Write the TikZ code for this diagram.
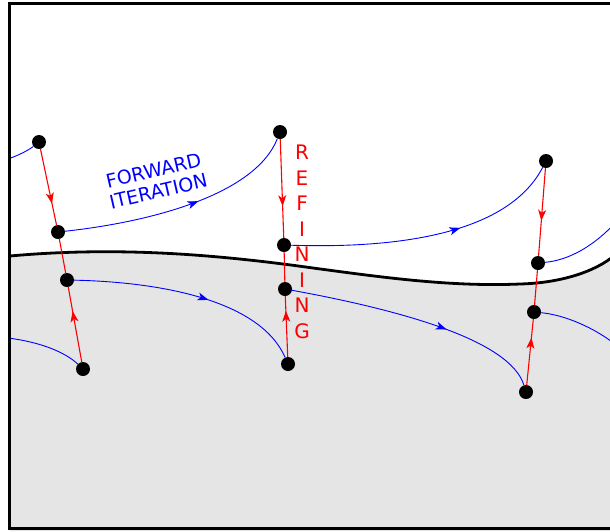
\documentclass[tikz,border=0pt]{standalone}
\usepackage{fontspec}
\setmainfont{DejaVu Sans}
\usetikzlibrary{arrows.meta, decorations.markings}
\definecolor{IterBlue}{RGB}{0, 0, 255}
\definecolor{RefRed}{RGB}{255, 0, 0}
\definecolor{RegionGray}{RGB}{229, 229, 229}

\tikzset{
  dot/.style={circle, fill=black, inner sep=0pt, minimum size=14pt},
  iterline/.style={IterBlue, line width=0.9pt},
  refline/.style={RefRed, line width=1.1pt},
  tipat/.style={postaction={decorate}, decoration={markings,
    mark=at position #1 with {\arrow{Stealth[length=11pt, width=8pt, inset=3pt]}}}},
}

\begin{document}
\begin{tikzpicture}[x=1pt,y=-1pt]
  \useasboundingbox (0,0) rectangle (610,531);
  \clip (0,0) rectangle (610,531);

  % lower region and its boundary
  \fill[RegionGray] (10,256) .. controls (120,246) and (220,255) .. (313,268)
    .. controls (380,277) and (450,287) .. (520,284)
    .. controls (560,283) and (595,272) .. (615,255) -- (615,531) -- (10,531) -- cycle;
  \draw[line width=2.8pt] (10,256) .. controls (120,246) and (220,255) .. (313,268)
    .. controls (380,277) and (450,287) .. (520,284)
    .. controls (560,283) and (595,272) .. (615,255);

  % points, left column
  \node[dot] (a1) at (39,142) {};
  \node[dot] (a2) at (58,232) {};
  \node[dot] (a3) at (67,280) {};
  \node[dot] (a4) at (83,369) {};
  % points, middle column
  \node[dot] (b1) at (280,132) {};
  \node[dot] (b2) at (284,245) {};
  \node[dot] (b3) at (285,289) {};
  \node[dot] (b4) at (288,364) {};
  % points, right column
  \node[dot] (c1) at (546,161) {};
  \node[dot] (c2) at (538,263) {};
  \node[dot] (c3) at (534,312) {};
  \node[dot] (c4) at (526,392) {};

  \coordinate (w1) at (8,159);
  \coordinate (w2) at (8,338);
  \coordinate (e1) at (616,222);
  \coordinate (e2) at (616,345);

  % forward iteration
  \draw[iterline] (w1) .. controls (22,154) and (30,149) .. (a1);
  \draw[iterline, tipat=0.57] (a2) .. controls (150,222) and (255,195) .. (b1);
  \draw[iterline, tipat=0.62] (b2) .. controls (410,249) and (510,230) .. (c1);
  \draw[iterline] (c2) .. controls (570,260) and (595,245) .. (e1);
  \draw[iterline] (w2) .. controls (40,342) and (65,352) .. (a4);
  \draw[iterline, tipat=0.58] (a3) .. controls (160,282) and (260,300) .. (b4);
  \draw[iterline, tipat=0.62] (b3) .. controls (400,310) and (510,340) .. (c4);
  \draw[iterline] (c3) .. controls (565,315) and (595,328) .. (e2);

  % refining
  \draw[refline, tipat=0.72] (a1) -- (a2);
  \draw[refline] (a2) -- (a3);
  \draw[refline, tipat=0.68] (a4) -- (a3);
  \draw[refline, tipat=0.68] (b1) -- (b2);
  \draw[refline] (b2) -- (b3);
  \draw[refline, tipat=0.76] (b4) -- (b3);
  \draw[refline, tipat=0.6] (c1) -- (c2);
  \draw[refline] (c2) -- (c3);
  \draw[refline, tipat=0.72] (c4) -- (c3);

  \node[IterBlue, rotate=13, align=center, font=\fontsize{19}{21}\selectfont] (fwd) at (156,181) {FORWARD\\ITERATION};
  \node[RefRed, align=center, font=\fontsize{20}{25.5}\selectfont] (refine) at (302,242) {R\\E\\F\\I\\N\\I\\N\\G};

  % frame
  \draw[line width=3pt] (9.5,3.5) rectangle (640,528.5);
\end{tikzpicture}
\end{document}
